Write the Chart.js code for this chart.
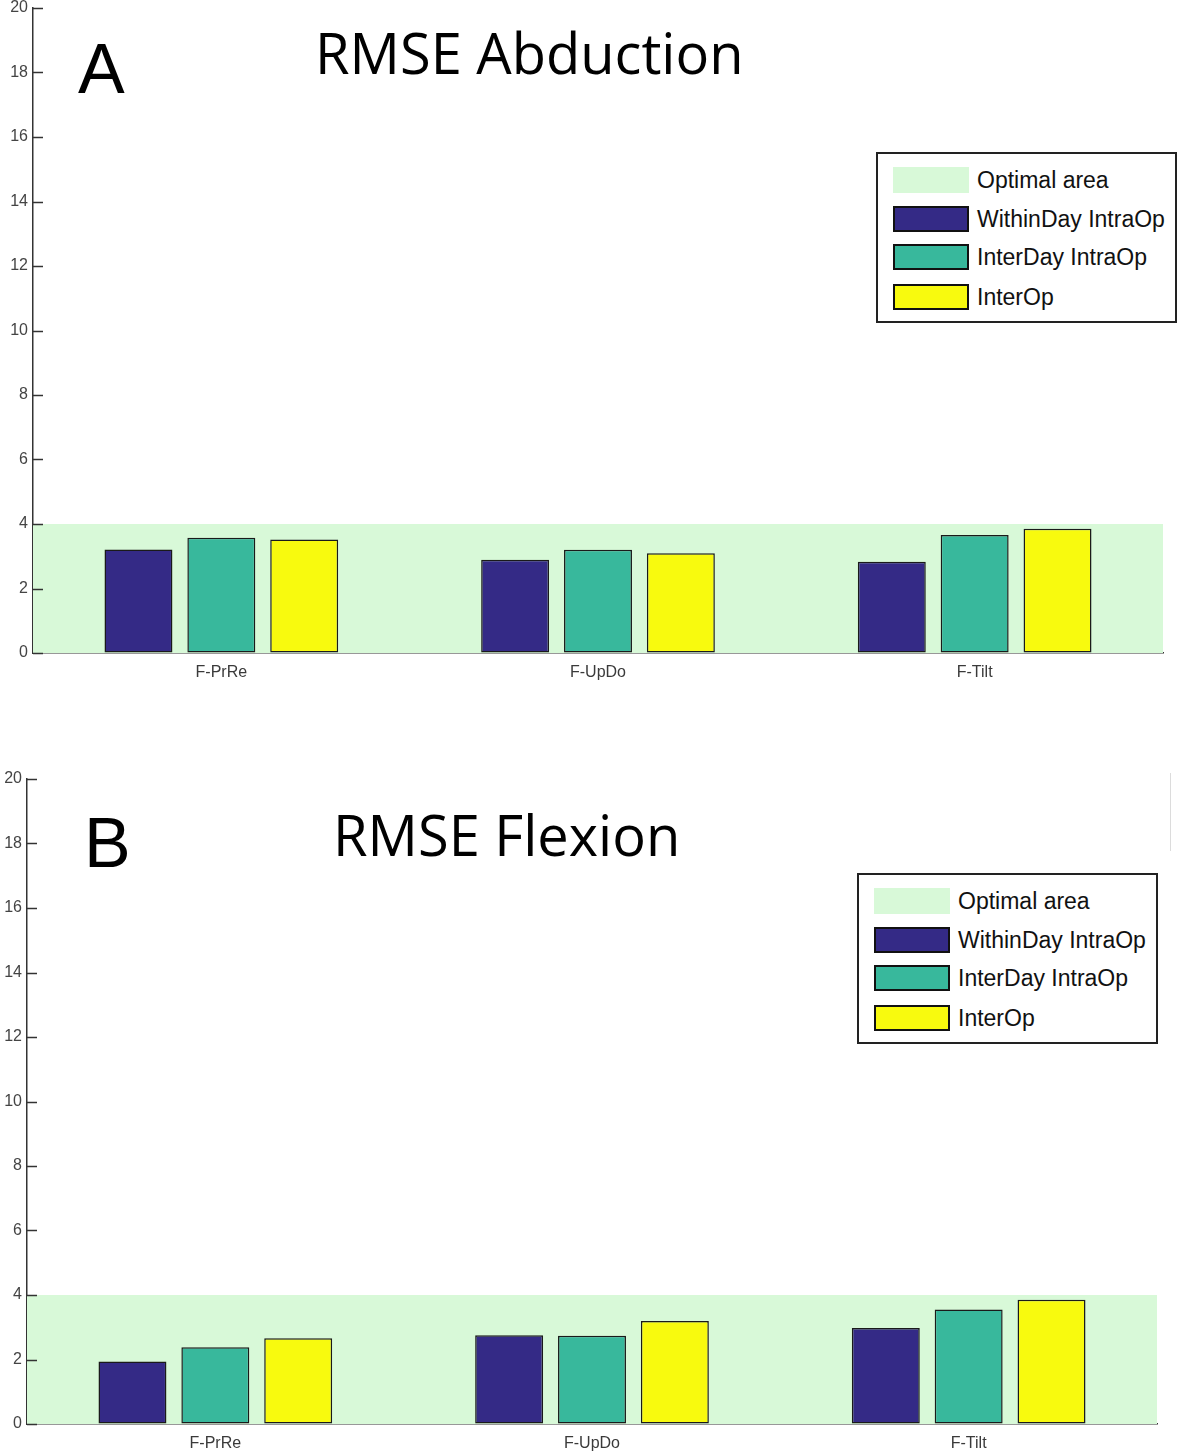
<!DOCTYPE html>
<html>
<head>
<meta charset="utf-8">
<script src="https://cdn.jsdelivr.net/npm/chart.js@4/dist/chart.umd.min.js"></script>
<style>
  html, body { margin: 0; padding: 0; background: #fff; }
  body { position: relative; width: 1181px; height: 1455px; overflow: hidden; }
  .panel { position: absolute; width: 1181px; height: 700px; }
  .letter { position: absolute; font-family: "Liberation Sans", Arial, sans-serif; font-size: 70px; color: #000; line-height: 1; }
  .title { position: absolute; font-family: "Open Sans", sans-serif; font-size: 56px; color: #000; line-height: 1; white-space: nowrap; }
  .legend { position: absolute; width: 297px; height: 167px; border: 2px solid #222; background: #fff; box-sizing: content-box; }
  .legend .row { position: absolute; left: 15px; height: 26px; display: flex; align-items: center; }
  .legend .sw { width: 72px; height: 22px; border: 2px solid #111; margin-right: 8px; }
  .legend .sw.area { border-color: transparent; }
  .legend .txt { font-family: "Liberation Sans", Arial, sans-serif; font-size: 23px; color: #111; white-space: nowrap; }
  .artifact { position: absolute; left: 1170px; top: 773px; width: 1px; height: 78px; background: #dcdcdc; }
</style>
</head>
<body>

<div class="panel" id="panelA" style="left:0; top:-5px;"><canvas id="chartA" width="1181" height="700"></canvas></div>
<div class="panel" id="panelB" style="left:-6px; top:766px;"><canvas id="chartB" width="1181" height="700"></canvas></div>

<div class="letter" style="left:78px; top:34px;">A</div>
<div class="title" style="left:315px; top:24px;">RMSE Abduction</div>
<div class="letter" style="left:84px; top:808px;">B</div>
<div class="title" style="left:333px; top:806px;">RMSE Flexion</div>

<div id="legendA" class="legend" style="left:876px; top:152px;"></div>
<div id="legendB" class="legend" style="left:857px; top:873px;"></div>
<div class="artifact"></div>

<script>
// RMSE bar charts (A: abduction, B: flexion)

const categories = ['F-PrRe', 'F-UpDo', 'F-Tilt'];
const seriesNames = ['WithinDay IntraOp', 'InterDay IntraOp', 'InterOp'];
const seriesColors = ['#342a86', '#38b89c', '#f8fa0e'];
const areaLabel = 'Optimal area';
const areaColor = '#d8f9d8';
const optimalMax = 4;
const yTicks = [0, 2, 4, 6, 8, 10, 12, 14, 16, 18, 20];

// Panel A - RMSE Abduction
const abdWithinDay = [3.21, 2.89, 2.83];
const abdInterDay = [3.57, 3.20, 3.66];
const abdInterOp = [3.52, 3.09, 3.85];

// Panel B - RMSE Flexion
const flexWithinDay = [1.94, 2.75, 2.98];
const flexInterDay = [2.38, 2.74, 3.55];
const flexInterOp = [2.66, 3.19, 3.85];

// green band from 0 to optimalMax, behind the bars
const optimalAreaPlugin = {
    id: 'optimalArea',
    beforeDatasetsDraw(chart) {
        const { ctx, chartArea, scales } = chart;
        const yTop = scales.y.getPixelForValue(optimalMax);
        const yBot = scales.y.getPixelForValue(0);
        ctx.save();
        ctx.fillStyle = areaColor;
        ctx.fillRect(chartArea.left, yTop, chartArea.right - chartArea.left, yBot - yTop);
        ctx.restore();
    }
};

// matlab style inward tick marks on the y axis
const inwardTicksPlugin = {
    id: 'inwardTicks',
    afterDraw(chart) {
        const { ctx, scales } = chart;
        const y = scales.y;
        ctx.save();
        ctx.strokeStyle = '#333';
        ctx.lineWidth = 1.5;
        y.ticks.forEach((t, i) => {
            const py = Math.round(y.getPixelForTick(i)) + 0.5;
            ctx.beginPath();
            ctx.moveTo(y.right, py);
            ctx.lineTo(y.right + 10, py);
            ctx.stroke();
        });
        ctx.restore();
    }
};

function makeChart(canvasId, seriesData) {
    const datasets = seriesNames.map((name, i) => ({
        label: name,
        data: seriesData[i],
        backgroundColor: seriesColors[i],
        borderColor: '#1a1a1a',
        borderWidth: 1.5,
        borderSkipped: false,
        categoryPercentage: 0.66,
        barPercentage: 0.82
    }));

    return new Chart(document.getElementById(canvasId), {
        type: 'bar',
        data: { labels: categories, datasets: datasets },
        options: {
            responsive: false,
            animation: false,
            devicePixelRatio: 1,
            layout: { padding: { left: 0, top: 0, right: 18, bottom: 2 } },
            plugins: {
                legend: { display: false },
                tooltip: { enabled: false }
            },
            scales: {
                x: {
                    grid: { display: true, drawOnChartArea: false, drawTicks: false },
                    border: { display: true, color: '#333', width: 1.5 },
                    ticks: {
                        color: '#3a3a3a',
                        padding: 10,
                        font: { family: 'Liberation Sans, Arial, sans-serif', size: 16 }
                    },
                    afterFit(scale) { scale.height = 40; }
                },
                y: {
                    min: 0,
                    max: 20,
                    afterBuildTicks(scale) { scale.ticks = yTicks.map(v => ({ value: v })); },
                    grid: { display: true, drawOnChartArea: false, drawTicks: false },
                    border: { display: true, color: '#333', width: 1.5 },
                    ticks: {
                        color: '#444',
                        padding: 5,
                        font: { family: 'Liberation Sans, Arial, sans-serif', size: 16, lineHeight: 1 }
                    },
                    afterFit(scale) { scale.width = 33; }
                }
            }
        },
        plugins: [optimalAreaPlugin, inwardTicksPlugin]
    });
}

function buildLegend(id) {
    const box = document.getElementById(id);
    const rows = [{ label: areaLabel, color: areaColor, area: true }]
        .concat(seriesNames.map((n, i) => ({ label: n, color: seriesColors[i], area: false })));
    const tops = [13, 52, 90, 130];
    rows.forEach((r, i) => {
        const row = document.createElement('div');
        row.className = 'row';
        row.style.top = tops[i] + 'px';
        const sw = document.createElement('div');
        sw.className = 'sw' + (r.area ? ' area' : '');
        sw.style.background = r.color;
        const txt = document.createElement('div');
        txt.className = 'txt';
        txt.textContent = r.label;
        row.appendChild(sw);
        row.appendChild(txt);
        box.appendChild(row);
    });
}

makeChart('chartA', [abdWithinDay, abdInterDay, abdInterOp]);
makeChart('chartB', [flexWithinDay, flexInterDay, flexInterOp]);
buildLegend('legendA');
buildLegend('legendB');
</script>
</body>
</html>
